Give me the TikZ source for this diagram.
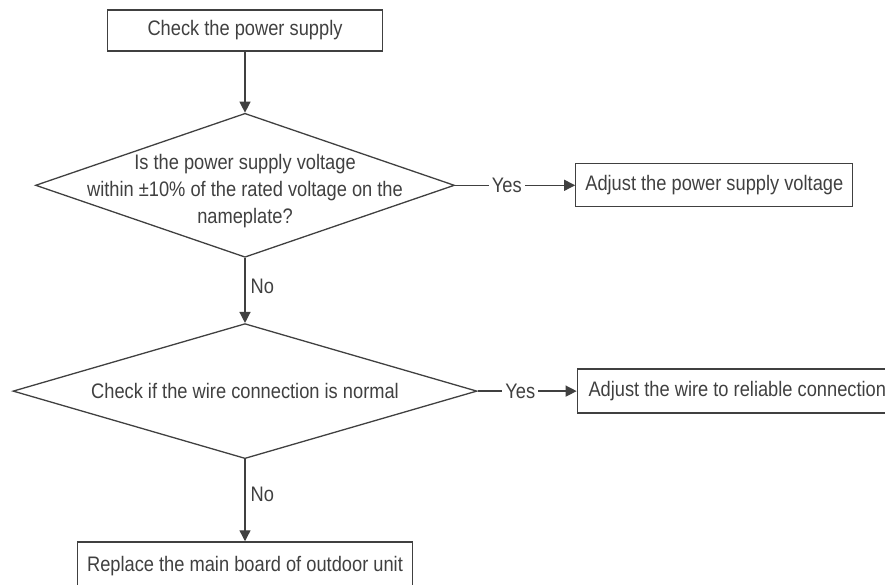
\documentclass[tikz,border=0pt]{standalone}
\usepackage{fontspec}
\setmainfont[FakeStretch=0.87]{Liberation Sans}
\usepackage{tikz}
\usetikzlibrary{positioning, arrows.meta, shapes.geometric}
\definecolor{ink}{HTML}{404040}
\tikzset{
  box/.style={draw=ink, line width=1.3pt, text=ink, align=center, inner sep=0pt, font=\fontsize{21}{27}\selectfont},
  stepbox/.style={box, rectangle},
  decision/.style={box, diamond},
  qtext/.style={text=ink, align=center, inner sep=0pt, font=\fontsize{21}{27}\selectfont},
  yeslbl/.style={fill=white, text=ink, inner xsep=3pt, inner ysep=1pt, pos=0.43, font=\fontsize{21}{27}\selectfont},
  nolbl/.style={text=ink, anchor=west, inner sep=5pt, pos=0.43, font=\fontsize{21}{27}\selectfont},
  flow/.style={draw=ink, line width=1.3pt, -{Triangle[length=11pt, width=11pt]}},
}
\begin{document}
\begin{tikzpicture}[x=1pt, y=-1pt, node distance=60pt]
  \clip (0,0) rectangle (885,584);
  \node[stepbox, minimum width=275pt, minimum height=41pt] (start) at (245,30.5) {Check the power supply};
  \node[decision, minimum width=419pt, minimum height=144pt, below=61pt of start,
    label={[qtext, yshift=-6pt]center:{Is the power supply voltage\\within ±10\% of the rated voltage on the\\nameplate?}}] (volt) {};
  \node[stepbox, minimum width=277pt, minimum height=43pt, right=120pt of volt] (adjv) {Adjust the power supply voltage};
  \node[decision, minimum width=464pt, minimum height=135pt, below=65pt of volt,
    label={[qtext]center:Check if the wire connection is normal}] (wire) {};
  \node[stepbox, minimum width=320pt, minimum height=44pt, right=99pt of wire] (adjw) {Adjust the wire to reliable connection};
  \node[stepbox, minimum width=335pt, minimum height=48pt, below=82pt of wire] (repl) {Replace the main board of outdoor unit};
  \draw[flow] (start) -- (volt);
  \foreach \a/\b in {volt/adjv, wire/adjw} \draw[flow] (\a) -- node[yeslbl] {Yes} (\b);
  \foreach \a/\b in {volt/wire, wire/repl} \draw[flow] (\a) -- node[nolbl] {No} (\b);
\end{tikzpicture}
\end{document}
